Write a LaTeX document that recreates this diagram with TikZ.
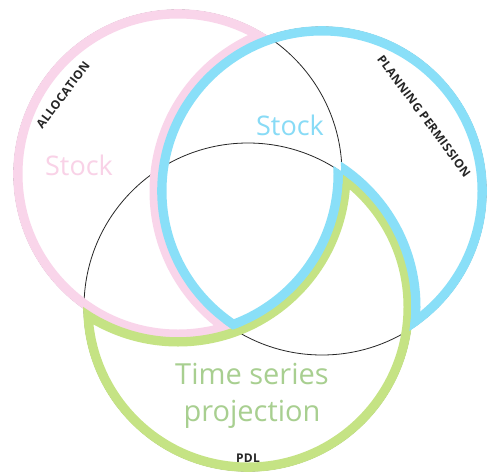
\documentclass[tikz,border=0pt]{standalone}
\usepackage{fontspec}
\setmainfont{Open Sans}
\definecolor{pinkc}{HTML}{F9D5EA}
\definecolor{bluec}{HTML}{89DFF8}
\definecolor{greenc}{HTML}{C5E384}
\definecolor{pinkt}{HTML}{F9D2E7}
\definecolor{bluet}{HTML}{88DBF6}
\definecolor{greent}{HTML}{A8CF90}
\definecolor{inkc}{HTML}{262626}
\begin{document}
\begin{tikzpicture}[x=1pt,y=-1pt,
  thinline/.style={draw=inkc,line width=0.8pt},
  band/.style={line width=17pt},
  bigtext/.style={font=\fontsize{27}{30}\selectfont, anchor=base},
  smalllabel/.style={font=\fontsize{12}{14}\selectfont\bfseries\addfontfeatures{LetterSpace=3}, text=inkc, inner sep=0pt}]
\def\R{164}
\def\Ri{164.8}
\def\Ro{163.2}
\coordinate (P) at (178,174);
\coordinate (B) at (322,191);
\coordinate (G) at (248,307);
\useasboundingbox (0,0) rectangle (489,474);
\fill[white] (0,0) rectangle (489,474);
% thin full circles
\draw[thinline] (P) circle[radius=\R];
\draw[thinline] (B) circle[radius=\R];
\draw[thinline] (G) circle[radius=\R];
% pink crescent: pink minus blue
\begin{scope}
  \clip (P) circle[radius=\Ri];
  \begin{scope}[even odd rule]
  \clip (-50,-50) rectangle (550,550) (B) circle[radius=\Ro];
  \draw[band,pinkc] (P) circle[radius=\R] (B) circle[radius=\R];
  \end{scope}
\end{scope}
% green crescent: green minus pink
\begin{scope}
  \clip (G) circle[radius=\Ri];
  \begin{scope}[even odd rule]
  \clip (-50,-50) rectangle (550,550) (P) circle[radius=\Ro];
  \draw[band,greenc] (G) circle[radius=\R] (P) circle[radius=\R];
  \end{scope}
\end{scope}
% blue shape: blue and (pink or not green)
\begin{scope}
  \clip (B) circle[radius=\Ri];
  \clip (-50,-50) -- (550,-50) -- (550,550) -- (-50,550) -- cycle
        (P) ++(\Ri,0) arc[start angle=0,end angle=360,radius=\Ri]
        (G) ++(\Ro,0) arc[start angle=0,end angle=-360,radius=\Ro];
  \draw[band,bluec] (B) circle[radius=\R];
  \begin{scope}[even odd rule]
    \clip (-50,-50) rectangle (550,550) (P) circle[radius=\Ro];
    \draw[band,bluec] (G) circle[radius=\R];
  \end{scope}
  \begin{scope}
    \clip (G) circle[radius=\Ri];
    \draw[band,bluec] (P) circle[radius=\R];
  \end{scope}
\end{scope}
% texts
\node[bigtext,text=pinkt] (stockp) at (79,175) {Stock};
\node[bigtext,text=bluet] (stockb) at (290,135) {Stock};
\node[bigtext,text=greent,font=\fontsize{29}{32}\selectfont] (ts) at (252,384) {Time series};
\node[bigtext,text=greent,font=\fontsize{29}{32}\selectfont] (pj) at (252,421) {projection};
\node[smalllabel,rotate=53] (alloc) at (63,95) {ALLOCATION};
\node[smalllabel,rotate=-53.5] (plan) at (424,116) {PLANNING PERMISSION};
\node[smalllabel] (pdl) at (248,458) {PDL};
\end{tikzpicture}
\end{document}
